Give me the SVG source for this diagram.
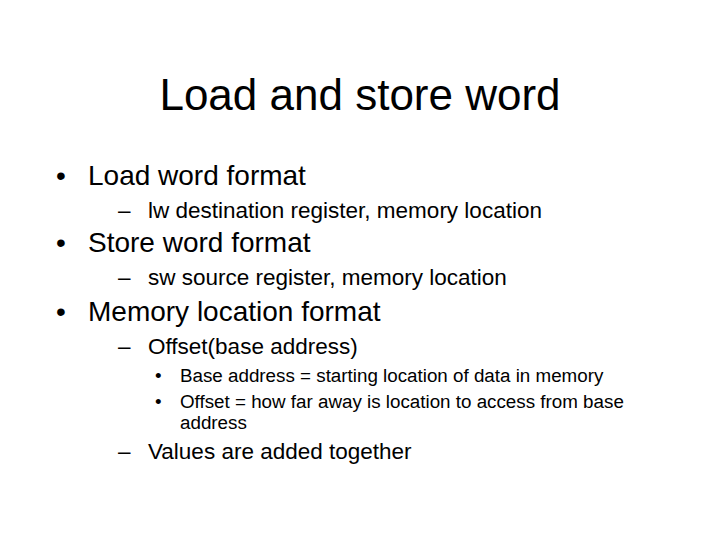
<svg xmlns="http://www.w3.org/2000/svg" width="720" height="540" viewBox="0 0 720 540">
<style>
text{font-family:"Liberation Sans",Arial,sans-serif;fill:#000}
.t{font-size:44px}
.l1{font-size:28px}
.l2{font-size:22.5px}
.l3{font-size:18.8px}
</style>
<rect width="720" height="540" fill="#fff"/>
<text class="t" x="360" y="110" text-anchor="middle">Load and store word</text>
<text class="l1" x="56" y="185">•</text><text class="l1" x="88" y="185">Load word format</text>
<text class="l2" x="118" y="218">–</text><text class="l2" x="148" y="218">lw destination register, memory location</text>
<text class="l1" x="56" y="252">•</text><text class="l1" x="88" y="252">Store word format</text>
<text class="l2" x="118" y="285">–</text><text class="l2" x="148" y="285">sw source register, memory location</text>
<text class="l1" x="56" y="321">•</text><text class="l1" x="88" y="321">Memory location format</text>
<text class="l2" x="118" y="354">–</text><text class="l2" x="148" y="354">Offset(base address)</text>
<text class="l3" x="155" y="382">•</text><text class="l3" x="180" y="382">Base address = starting location of data in memory</text>
<text class="l3" x="155" y="408">•</text><text class="l3" x="180" y="408">Offset = how far away is location to access from base</text>
<text class="l3" x="180" y="429">address</text>
<text class="l2" x="118" y="459">–</text><text class="l2" x="148" y="459">Values are added together</text>
</svg>
